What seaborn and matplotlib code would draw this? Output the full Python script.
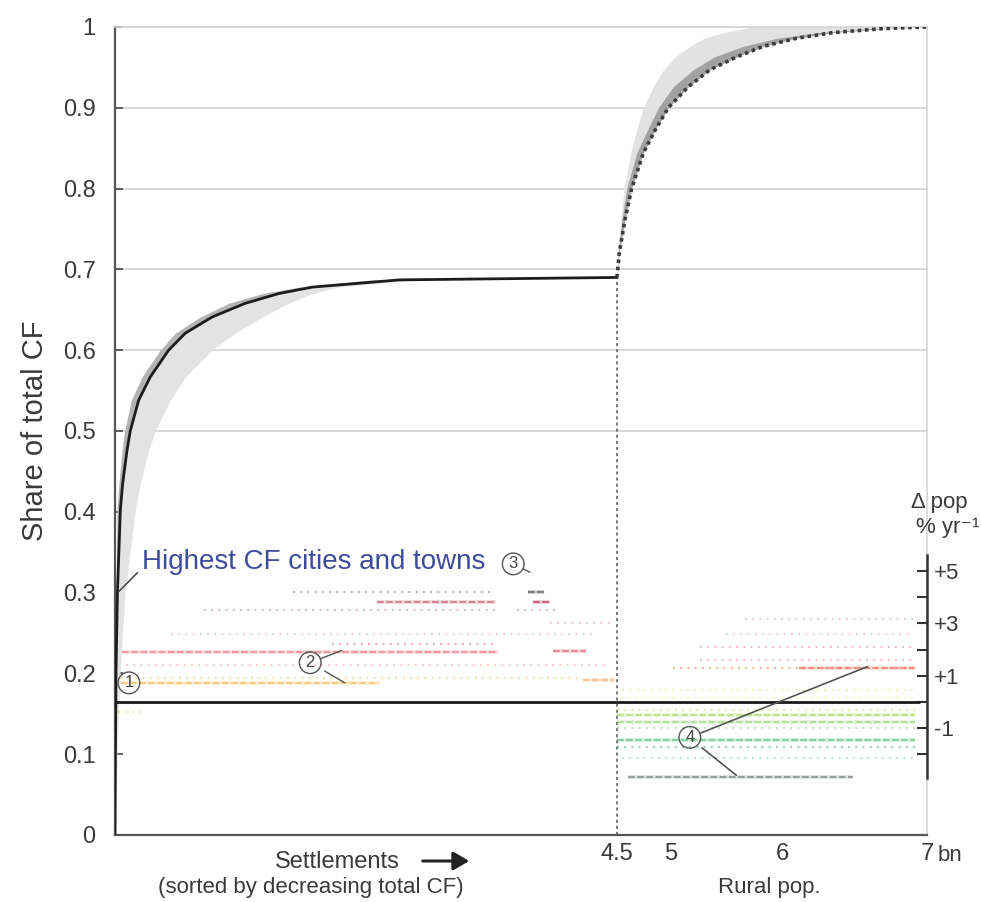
import numpy as np
import pandas as pd
import matplotlib
matplotlib.use("Agg")
import matplotlib.pyplot as plt
import seaborn as sns
from matplotlib.colors import LinearSegmentedColormap, Normalize

# ---------------- data ----------------
# Settlements part: share of total CF (y) vs cumulative urban population (x, bn)
URB_Y = [0, 0.1, 0.2, 0.3, 0.402, 0.435, 0.476, 0.5, 0.538, 0.567, 0.6, 0.621, 0.641, 0.658, 0.670, 0.678, 0.687, 0.69]
URB_X_MID = [0, 0.004, 0.009, 0.022, 0.048, 0.069, 0.108, 0.137, 0.212, 0.317, 0.481, 0.63, 0.87, 1.168, 1.467, 1.766, 2.55, 4.5]
URB_X_HI = [0, 0.002, 0.005, 0.012, 0.018, 0.035, 0.063, 0.087, 0.146, 0.242, 0.406, 0.54, 0.765, 1.02, 1.32, 1.65, 2.3, 4.5]
URB_X_LO = [0, 0.018, 0.045, 0.09, 0.182, 0.227, 0.302, 0.361, 0.496, 0.630, 0.87, 1.078, 1.318, 1.557, 1.766, 2.0, 2.7, 4.5]

# Rural part: share of total CF (y) vs cumulative population (x, bn)
RUR_Y = [0.69, 0.72, 0.761, 0.8, 0.844, 0.872, 0.9, 0.926, 0.947, 0.963, 0.976, 0.986, 0.993, 0.998, 1.0]
RUR_X_MID = [4.5, 4.521, 4.574, 4.636, 4.744, 4.852, 4.975, 5.156, 5.351, 5.592, 5.832, 6.10, 6.35, 6.7, 7.0]
RUR_X_DARK = [4.5, 4.513, 4.545, 4.59, 4.682, 4.78, 4.883, 5.02, 5.20, 5.39, 5.65, 5.95, 6.25, 6.6, 7.0]
RUR_X_LIGHT = [4.5, 4.51, 4.535, 4.565, 4.627, 4.68, 4.744, 4.836, 4.93, 5.04, 5.17, 5.30, 5.47, 5.65, 5.75]

URBAN_END_X = 4.5
URBAN_END_SHARE = 0.69

# Population growth streaks (Δ pop, % per yr) of settlements / rural cells
STREAK_X0 = [0.05, 0.05, 4.20, 0.06, 3.93, 1.95, 0.10, 0.80, 2.35, 1.60, 3.70, 3.75, 3.60, 0.50, 0.03, 3.90,
             5.02, 6.12, 5.26, 5.26, 5.67, 4.55, 4.55, 4.50, 4.50, 4.50, 4.50, 4.50, 4.50, 4.55, 4.60, 5.50]
STREAK_X1 = [2.37, 4.20, 4.47, 3.43, 4.22, 3.40, 4.40, 3.45, 3.42, 3.40, 3.85, 3.90, 3.95, 4.30, 0.25, 4.45,
             6.92, 6.92, 6.92, 6.92, 6.92, 6.92, 6.92, 6.92, 6.92, 6.92, 6.92, 6.92, 6.92, 6.92, 6.49, 6.90]
STREAK_G = [0.73, 0.90, 0.85, 1.92, 1.96, 2.20, 1.40, 3.50, 3.80, 4.20, 4.20, 3.80, 3.50, 2.60, -0.40, 3.00,
            1.31, 1.31, 1.60, 2.10, 3.15, 0.46, 0.15, -0.30, -0.50, -0.77, -1.00, -1.46, -1.73, -2.15, -2.88, 2.60]
STREAK_DENSITY = [0.8, 0.2, 0.6, 0.55, 0.8, 0.35, 0.12, 0.2, 0.55, 0.25, 0.9, 0.9, 0.2, 0.1, 0.3, 0.15,
                  0.35, 0.8, 0.2, 0.2, 0.12, 0.3, 0.15, 0.35, 0.7, 0.5, 0.3, 0.7, 0.4, 0.15, 0.6, 0.1]

Y_TICKS = [0, 0.1, 0.2, 0.3, 0.4, 0.5, 0.6, 0.7, 0.8, 0.9, 1.0]
Y_TICKLABELS = ["0", "0.1", "0.2", "0.3", "0.4", "0.5", "0.6", "0.7", "0.8", "0.9", "1"]
X_TICKS = [4.5, 5, 6, 7]
X_TICKLABELS = ["4.5", "5", "6", "7"]
G_TICKS = [-2, -1, 0, 1, 2, 3, 4, 5]
G_TICKLABELS = ["", "-1", "", "+1", "", "+3", "", "+5"]
GRID_LEVELS = [0.5, 0.6, 0.7, 0.8, 0.9, 1.0]

# ---------------- styling ----------------
sns.set_theme(style="white")
plt.rcParams["font.family"] = ["Liberation Sans", "DejaVu Sans"]
TXT = "#3a3a3a"

fig = plt.figure(figsize=(9.81, 9.02), dpi=100)
ax = fig.add_axes([0.1172, 0.0743, 0.8277, 0.8958])

# piecewise axis (settlements | rural pop)
NODE_BN = np.array([-1.0, 0.0, 4.5, 5.0, 6.0, 7.0, 8.0])
NODE_POS = np.array([-111.6, 0.0, 502.0, 556.0, 667.0, 812.0, 957.0])
fwd = lambda v: np.interp(v, NODE_BN, NODE_POS)
inv = lambda v: np.interp(v, NODE_POS, NODE_BN)
ax.set_xscale("function", functions=(fwd, inv))
ax.set_xlim(0, 7)
ax.set_ylim(0, 1)

for lv in GRID_LEVELS:
    ax.axhline(lv, color="#d4d4d4", lw=1.3, zorder=0)

# bands
ax.fill_betweenx(URB_Y, URB_X_MID, URB_X_LO, color="#e3e3e3", lw=0, zorder=1)
ax.fill_betweenx(URB_Y, URB_X_HI, URB_X_MID, color="#b4b4b4", lw=0, zorder=1)
ax.fill_betweenx(RUR_Y, RUR_X_LIGHT, RUR_X_DARK, color="#e2e2e2", lw=0, zorder=1)
ax.fill_betweenx(RUR_Y, RUR_X_DARK, RUR_X_MID, color="#a2a2a2", lw=0, zorder=1)

sns.lineplot(x=URB_X_MID, y=URB_Y, ax=ax, color="#1c1c1c", lw=2.0, estimator=None, sort=False, zorder=3)
sns.lineplot(x=RUR_X_MID, y=RUR_Y, ax=ax, color="#3c3c3c", lw=2.6, linestyle=(0, (1, 1)),
             estimator=None, sort=False, zorder=3)

ax.vlines(URBAN_END_X, 0, URBAN_END_SHARE, color="#555555", lw=1.1, linestyles=(0, (2, 2)), zorder=2)

# axes styling
ax.set_yticks(Y_TICKS)
ax.set_yticklabels(Y_TICKLABELS)
ax.set_xticks(X_TICKS)
ax.set_xticklabels(X_TICKLABELS)
ax.tick_params(axis="y", direction="in", length=6, width=1.3, color="#555555",
               labelsize=17, labelcolor=TXT, pad=14)
ax.tick_params(axis="x", direction="in", length=9, width=1.3, color="#444444",
               labelsize=17, labelcolor=TXT, pad=6)
ax.xaxis.get_major_ticks()[0].tick1line.set_visible(False)
for side in ["left", "bottom"]:
    ax.spines[side].set_color("#555555")
    ax.spines[side].set_linewidth(1.6)
for side in ["top", "right"]:
    ax.spines[side].set_color("#d4d4d4")
    ax.spines[side].set_linewidth(1.2)
ax.set_ylabel("Share of total CF", fontsize=21, color=TXT, labelpad=10)
ax.set_xlabel("")

# growth-rate axis (twin)
ax2 = ax.twinx()
G_PER_UNIT = 0.03243
G_ZERO = 0.1646
ax2.set_ylim(-G_ZERO / G_PER_UNIT, (1 - G_ZERO) / G_PER_UNIT)
ax2.set_xlim(0, 7)

cmap = LinearSegmentedColormap.from_list("growth", [
    (0.0, "#4a4a4a"), (0.0625, "#3a8a6a"), (0.1875, "#2fb060"), (0.2875, "#7cc444"),
    (0.35, "#c8dc50"), (0.4125, "#f2e060"), (0.4625, "#f2b838"), (0.525, "#e86a4a"),
    (0.625, "#e0405a"), (0.75, "#c86070"), (0.85, "#b02040"), (0.9, "#404040"), (1.0, "#202020")])
norm = Normalize(-3, 5)

streaks = pd.DataFrame({"x0": STREAK_X0, "x1": STREAK_X1, "g": STREAK_G, "d": STREAK_DENSITY})
for _, r in streaks.iterrows():
    col = cmap(norm(r.g))
    if r.d >= 0.5:
        ax2.hlines(r.g, r.x0, r.x1, colors=[col], alpha=0.08 + 0.15 * r.d, lw=3.0, zorder=2)
        ax2.hlines(r.g, r.x0, r.x1, colors=[col], alpha=0.3 + 0.45 * r.d, lw=1.2,
                   linestyles=[(0, (4, 1.5))], zorder=2)
    else:
        ax2.hlines(r.g, r.x0, r.x1, colors=[col], alpha=0.25 + 0.9 * r.d, lw=1.3,
                   linestyles=[(0, (1, 3))], zorder=2)

ax2.hlines(0, 0, 6.95, color="#1a1a1a", lw=2.0, zorder=4)

ax2.set_yticks(G_TICKS)
ax2.set_yticklabels(G_TICKLABELS)
ax2.tick_params(axis="y", direction="in", length=7, width=1.5, color="#333333",
                labelsize=16, labelcolor=TXT, pad=5)
for side in ["left", "top", "bottom"]:
    ax2.spines[side].set_visible(False)
ax2.spines["right"].set_color("#333333")
ax2.spines["right"].set_linewidth(1.8)
ax2.spines["right"].set_bounds(-2.9, 5.6)
ax2.grid(False)
ax.grid(False)

# ---------------- annotations ----------------
ax.annotate("Highest CF cities and towns", xy=(0.025, 0.30), xytext=(0.24, 0.338),
            ha="left", va="center", fontsize=20, color="#3f4c9c",
            arrowprops=dict(arrowstyle="-", color="#333333", lw=1, relpos=(0, 0.25),
                            shrinkA=1, shrinkB=0))

circ = dict(boxstyle="circle,pad=0.2", fc="none", ec="#555555", lw=1)
ax2.text(0.125, 0.73, "1", fontsize=12, ha="center", va="center", color="#444444", bbox=circ, zorder=5)
ax2.annotate("2", xy=(2.03, 1.96), xytext=(1.75, 1.5), fontsize=12, ha="center", va="center",
             color="#444444", bbox=circ,
             arrowprops=dict(arrowstyle="-", color="#555555", lw=1, shrinkA=0, shrinkB=0))
ax2.annotate("", xy=(2.06, 0.73), xytext=(1.88, 1.18),
             arrowprops=dict(arrowstyle="-", color="#555555", lw=1, shrinkA=0, shrinkB=0))
ax2.annotate("3", xy=(3.72, 4.95), xytext=(3.57, 5.27), fontsize=12, ha="center", va="center",
             color="#444444", bbox=circ,
             arrowprops=dict(arrowstyle="-", color="#555555", lw=1, shrinkA=0, shrinkB=0))
ax2.annotate("4", xy=(6.59, 1.35), xytext=(5.17, -1.35), fontsize=12, ha="center", va="center",
             color="#444444", bbox=circ, zorder=5,
             arrowprops=dict(arrowstyle="-", color="#555555", lw=1.2, shrinkA=0, shrinkB=0))
ax2.annotate("", xy=(5.59, -2.8), xytext=(5.28, -1.75),
             arrowprops=dict(arrowstyle="-", color="#555555", lw=1.2, shrinkA=0, shrinkB=0))

ax2.annotate("Δ pop", xy=(7, 7.6), xytext=(9, 0), textcoords="offset points",
             fontsize=16, ha="center", va="center", color=TXT, annotation_clip=False)
ax2.annotate("% yr⁻¹", xy=(7, 6.65), xytext=(15, 0), textcoords="offset points",
             fontsize=16, ha="center", va="center", color=TXT, annotation_clip=False)

ax.annotate("bn", xy=(7, 0), xytext=(8, -15), textcoords="offset points",
            fontsize=16, ha="left", va="center", color=TXT, annotation_clip=False)

fig.text(0.3435, 0.0443, "Settlements", fontsize=17, ha="center", va="center", color=TXT)
fig.patches.append(matplotlib.patches.FancyArrowPatch(
    (420 / 981, 1 - 861 / 902), (472 / 981, 1 - 861 / 902), transform=fig.transFigure,
    arrowstyle="-|>,head_length=6,head_width=3.5", mutation_scale=1.6, lw=2.2, color="#222222"))
fig.text(0.317, 0.0166, "(sorted by decreasing total CF)", fontsize=16, ha="center", va="center", color=TXT)
fig.text(0.784, 0.0166, "Rural pop.", fontsize=16, ha="center", va="center", color=TXT)

fig.savefig("out.png", dpi=100)
